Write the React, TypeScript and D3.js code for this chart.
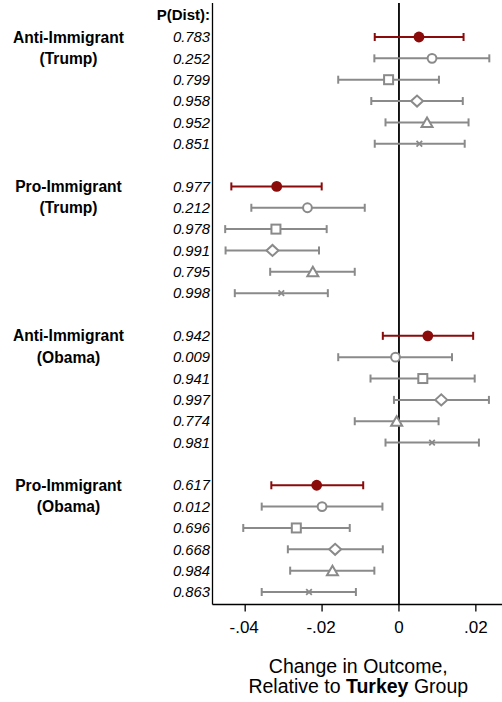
import React from "react";
import * as d3 from "d3";

const groups = ["Anti-Immigrant\n(Trump)", "Pro-Immigrant\n(Trump)", "Anti-Immigrant\n(Obama)", "Pro-Immigrant\n(Obama)"];
const shapes = ["filled", "circle", "square", "diamond", "triangle", "cross"];
const pDist = [
  ["0.783", "0.252", "0.799", "0.958", "0.952", "0.851"],
  ["0.977", "0.212", "0.978", "0.991", "0.795", "0.998"],
  ["0.942", "0.009", "0.941", "0.997", "0.774", "0.981"],
  ["0.617", "0.012", "0.696", "0.668", "0.984", "0.863"],
];
const estimates = [
  [0.0052, 0.0086, -0.0027, 0.0047, 0.0073, 0.0053],
  [-0.0318, -0.0238, -0.032, -0.0329, -0.0224, -0.0306],
  [0.0075, -0.0009, 0.0062, 0.011, -0.0006, 0.0086],
  [-0.0214, -0.02, -0.0267, -0.0166, -0.0173, -0.0234],
];
const lower = [
  [-0.0063, -0.0064, -0.0158, -0.0072, -0.0035, -0.0063],
  [-0.0436, -0.0384, -0.0452, -0.0451, -0.0335, -0.0427],
  [-0.0042, -0.0158, -0.0074, -0.0013, -0.0115, -0.0035],
  [-0.0332, -0.0357, -0.0405, -0.0289, -0.0283, -0.0357],
];
const upper = [
  [0.0168, 0.0235, 0.0104, 0.0166, 0.0181, 0.0171],
  [-0.0201, -0.0089, -0.0188, -0.0208, -0.0115, -0.0185],
  [0.0193, 0.0138, 0.0197, 0.0234, 0.0103, 0.0208],
  [-0.0093, -0.0043, -0.0128, -0.0042, -0.0064, -0.0112],
];
const xTicks = [-0.04, -0.02, 0, 0.02];
const xTickLabels = ["-.04", "-.02", "0", ".02"];

const W = 502, H = 702;
const left = 212.5, right = 502, top = 3, bottom = 604.5;
const RED = "#8b0a0a";
const GRAY = "#8a8a8a";
const FONT = "'Liberation Sans', Arial, Helvetica, sans-serif";

export default function App() {
  const x = d3.scaleLinear().domain([-0.0485, 0.0268]).range([left, right]);
  const rowIndex = (g: number, i: number) => g * 7 + i;
  const y = d3.scaleLinear().domain([0, 26]).range([37, 592]);

  const marker = (shape: string, cx: number, cy: number, color: string) => {
    const sw = 2;
    switch (shape) {
      case "filled":
        return <circle cx={cx} cy={cy} r={5.4} fill={color} />;
      case "circle":
        return <circle cx={cx} cy={cy} r={4.4} fill="white" stroke={color} strokeWidth={sw} />;
      case "square":
        return <rect x={cx - 4.5} y={cy - 4.5} width={9} height={9} fill="white" stroke={color} strokeWidth={sw} />;
      case "diamond":
        return <path d={`M${cx - 6},${cy}L${cx},${cy - 5.5}L${cx + 6},${cy}L${cx},${cy + 5.5}Z`} fill="white" stroke={color} strokeWidth={sw} />;
      case "triangle":
        return <path d={`M${cx - 5.5},${cy + 4.5}L${cx},${cy - 5}L${cx + 5.5},${cy + 4.5}Z`} fill="white" stroke={color} strokeWidth={sw} />;
      case "cross":
        return <path d={`M${cx - 2.8},${cy - 2.8}L${cx + 2.8},${cy + 2.8}M${cx - 2.8},${cy + 2.8}L${cx + 2.8},${cy - 2.8}`} stroke={color} strokeWidth={1.8} />;
    }
    return null;
  };

  return (
    <svg width={W} height={H} style={{ position: "absolute", left: 0, top: 0 }} fontFamily={FONT}>
      <rect width={W} height={H} fill="white" />
      {/* P(Dist) header */}
      <text x={210} y={20} textAnchor="end" fontWeight="bold" fontSize={15}>P(Dist):</text>
      {groups.map((g, gi) => {
        const lines = g.split("\n");
        const gy = y(rowIndex(gi, 0));
        return (
          <g key={gi}>
            {lines.map((l, li) => (
              <text key={li} x={68.5} y={gy + 5.5 + li * 21.4} textAnchor="middle" fontWeight="bold" fontSize={15.6}>{l}</text>
            ))}
            {pDist[gi].map((p, i) => (
              <text key={i} x={210} y={y(rowIndex(gi, i)) + 5.2} textAnchor="end" fontStyle="italic" fontSize={14.8}>{p}</text>
            ))}
          </g>
        );
      })}
      {/* axes */}
      <line x1={left} x2={left} y1={top} y2={bottom} stroke="black" strokeWidth={1.3} />
      <line x1={left} x2={right} y1={bottom} y2={bottom} stroke="black" strokeWidth={1.3} />
      <line x1={x(0)} x2={x(0)} y1={top} y2={bottom} stroke="black" strokeWidth={1.8} />
      {xTicks.map((t, i) => (
        <g key={i}>
          <line x1={x(t)} x2={x(t)} y1={bottom} y2={bottom + 7} stroke="black" strokeWidth={1.3} />
          <text x={x(t) + (t < 0 ? -1 : 0)} y={633} textAnchor="middle" fontSize={17}>{xTickLabels[i]}</text>
        </g>
      ))}
      {/* error bars */}
      {estimates.map((row, gi) =>
        row.map((v, i) => {
          const cy = y(rowIndex(gi, i));
          const color = i === 0 ? RED : GRAY;
          const x0 = x(lower[gi][i]), x1 = x(upper[gi][i]);
          return (
            <g key={`${gi}-${i}`}>
              <line x1={x0} x2={x1} y1={cy} y2={cy} stroke={color} strokeWidth={2} />
              <line x1={x0} x2={x0} y1={cy - 4} y2={cy + 4} stroke={color} strokeWidth={2} />
              <line x1={x1} x2={x1} y1={cy - 4} y2={cy + 4} stroke={color} strokeWidth={2} />
              {marker(shapes[i], x(v), cy, color)}
            </g>
          );
        })
      )}
      {/* axis title */}
      <text x={(left + right) / 2 + 1} y={673} textAnchor="middle" fontSize={19.5}>Change in Outcome,</text>
      <text x={(left + right) / 2 + 1} y={693} textAnchor="middle" fontSize={19.5}>
        Relative to <tspan fontWeight="bold">Turkey</tspan> Group
      </text>
    </svg>
  );
}
